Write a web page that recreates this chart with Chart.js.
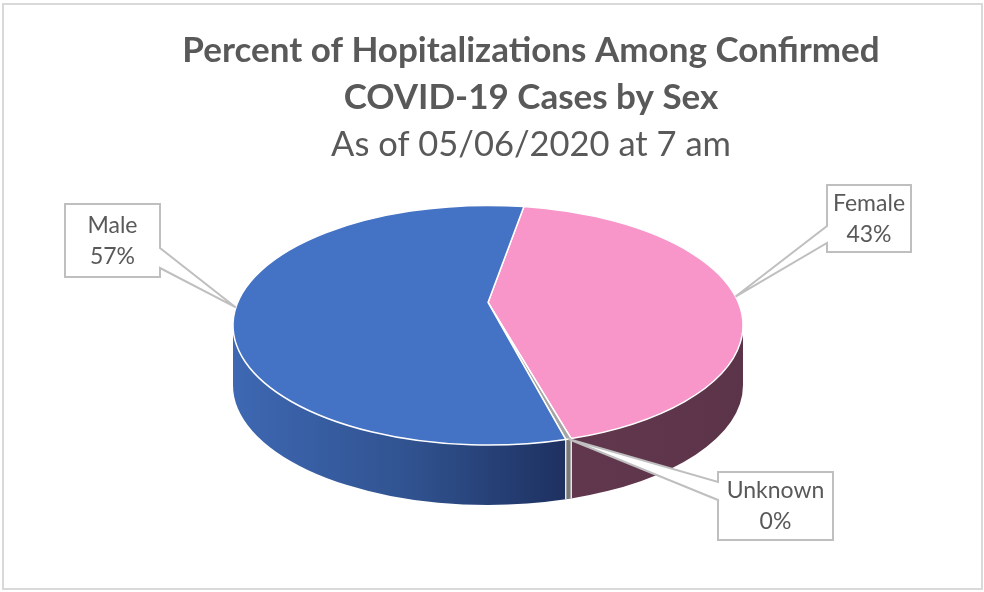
<!DOCTYPE html>
<html>
<head>
<meta charset="utf-8">
<script src="https://cdn.jsdelivr.net/npm/chart.js@4"></script>
<style>
html, body { margin: 0; padding: 0; background: #fff; }
canvas { display: block; }
</style>
</head>
<body>
<canvas id="pie3d" width="984" height="592"></canvas>
<script>
var labels = ['Female', 'Unknown', 'Male'];
var values = [42.9, 0.3, 56.8];

var topColors = ['#F896CA', '#A5A5A5', '#4472C4'];
var sideShades = [
    [[0, '#6B3D57'], [1, '#5C3449']],
    [[0, '#8C8C8C'], [1, '#6E6E6E']],
    [[0, '#3E68B3'], [0.35, '#30528F'], [0.65, '#1E3161'], [1, '#1B2C58']]
];
// label boxes, same order as labels; g1/g2 = where the pointer leaves the box
var callouts = [
    {x: 827, y: 185, w: 84, h: 67, side: 'left', g1: 41, g2: 58},
    {x: 718, y: 472, w: 115, h: 68, side: 'left', g1: 10, g2: 28},
    {x: 65, y: 204, w: 95, h: 73, side: 'right', g1: 44, g2: 64}
];
var widthShare = 0.7456; // pie width / plot area width
var tilt = 0.47;         // ry / rx of the top face
var depth = 0.235;       // wall height / rx
var persp = -0.19;       // centre pulled towards the back edge

// angle on the flat pie -> angle on the tilted ellipse
function project(a) {
    var s = Math.sin(a), c = Math.cos(a);
    var d = 1 + persp * s;
    var v = (s + persp) / d;
    var u = c * Math.sqrt(1 - persp * persp) / d;
    var t = Math.atan2(v, u);
    while (t < a - Math.PI) t += 2 * Math.PI;
    while (t > a + Math.PI) t -= 2 * Math.PI;
    return t;
}

var pie3d = {
    id: 'pie3d',
    beforeDatasetsDraw: function (chart) {
        var ctx = chart.ctx;
        var area = chart.chartArea;
        var rx = (area.right - area.left) * widthShare / 2;
        var g = {cx: (area.left + area.right) / 2, rx: rx, ry: rx * tilt, h: rx * depth};
        g.cy = area.top + g.ry;
        chart.$geo = g;
        var arcs = chart.getDatasetMeta(0).data;

        ctx.save();
        // walls
        arcs.forEach(function (arc, i) {
            var t1 = project(arc.startAngle), t2 = project(arc.endAngle);
            [0, 2 * Math.PI].forEach(function (base) {
                var s = Math.max(t1, base), e = Math.min(t2, base + Math.PI);
                if (e <= s) return;
                var grad = ctx.createLinearGradient(g.cx - g.rx, 0, g.cx + g.rx, 0);
                sideShades[i].forEach(function (st) {
                    grad.addColorStop(st[0], st[1]);
                });
                ctx.beginPath();
                ctx.ellipse(g.cx, g.cy, g.rx, g.ry, 0, s, e, false);
                ctx.ellipse(g.cx, g.cy + g.h, g.rx, g.ry, 0, e, s, true);
                ctx.closePath();
                ctx.fillStyle = grad;
                ctx.fill();
            });
        });
        // slice edges on the wall
        ctx.strokeStyle = '#ffffff';
        ctx.lineWidth = 1.2;
        arcs.forEach(function (arc) {
            var t = project(arc.startAngle);
            if (Math.sin(t) <= 0) return;
            var x = g.cx + g.rx * Math.cos(t), y = g.cy + g.ry * Math.sin(t);
            ctx.beginPath();
            ctx.moveTo(x, y);
            ctx.lineTo(x, y + g.h);
            ctx.stroke();
        });
        // top face
        ctx.lineWidth = 1.5;
        ctx.lineJoin = 'round';
        arcs.forEach(function (arc) {
            ctx.beginPath();
            ctx.moveTo(g.cx, g.cy + persp * g.ry);
            ctx.ellipse(g.cx, g.cy, g.rx, g.ry, 0, project(arc.startAngle), project(arc.endAngle), false);
            ctx.closePath();
            ctx.fillStyle = arc.options.backgroundColor;
            ctx.fill();
            ctx.stroke();
        });
        ctx.restore();
        return false;
    },
    afterDraw: function (chart) {
        var ctx = chart.ctx, g = chart.$geo;
        var arcs = chart.getDatasetMeta(0).data;
        var sum = values.reduce(function (a, b) { return a + b; }, 0);

        ctx.save();
        arcs.forEach(function (arc, i) {
            var t = project((arc.startAngle + arc.endAngle) / 2);
            var px = g.cx + g.rx * Math.cos(t), py = g.cy + g.ry * Math.sin(t);
            var c = callouts[i];
            ctx.beginPath();
            if (c.side === 'left') {
                ctx.moveTo(c.x, c.y);
                ctx.lineTo(c.x + c.w, c.y);
                ctx.lineTo(c.x + c.w, c.y + c.h);
                ctx.lineTo(c.x, c.y + c.h);
                ctx.lineTo(c.x, c.y + c.g2);
                ctx.lineTo(px, py);
                ctx.lineTo(c.x, c.y + c.g1);
            } else {
                ctx.moveTo(c.x, c.y);
                ctx.lineTo(c.x + c.w, c.y);
                ctx.lineTo(c.x + c.w, c.y + c.g1);
                ctx.lineTo(px, py);
                ctx.lineTo(c.x + c.w, c.y + c.g2);
                ctx.lineTo(c.x + c.w, c.y + c.h);
                ctx.lineTo(c.x, c.y + c.h);
            }
            ctx.closePath();
            ctx.fillStyle = '#ffffff';
            ctx.fill();
            ctx.strokeStyle = '#BFBFBF';
            ctx.lineWidth = 2;
            ctx.lineJoin = 'miter';
            ctx.stroke();

            ctx.fillStyle = '#595959';
            ctx.font = '23px Lato';
            ctx.textAlign = 'center';
            ctx.textBaseline = 'middle';
            var mx = c.x + c.w / 2, my = c.y + c.h / 2;
            ctx.fillText(labels[i], mx, my - 15);
            ctx.fillText(Math.round(values[i] / sum * 100) + '%', mx, my + 16);
        });

        // chart frame
        ctx.strokeStyle = '#D9D9D9';
        ctx.lineWidth = 2;
        ctx.strokeRect(3, 4, 979, 585);
        ctx.restore();
    }
};

new Chart(document.getElementById('pie3d'), {
    type: 'pie',
    data: {
        labels: labels,
        datasets: [{
            data: values,
            backgroundColor: topColors,
            borderColor: '#ffffff'
        }]
    },
    options: {
        responsive: false,
        animation: false,
        rotation: 9.8,
        layout: {
            padding: {left: 146, right: 68, top: 0, bottom: 20}
        },
        plugins: {
            // empty legend on the right only keeps the pie left of the title centre
            legend: {
                display: true,
                position: 'right',
                labels: {padding: 76, filter: function () { return false; }}
            },
            tooltip: {enabled: false},
            title: {
                display: true,
                text: ['Percent of Hopitalizations Among Confirmed', 'COVID-19 Cases by Sex'],
                color: '#595959',
                font: {family: 'Lato', size: 35, weight: 'bold', lineHeight: 1.343},
                padding: {top: 27, bottom: 2}
            },
            subtitle: {
                display: true,
                text: 'As of 05/06/2020 at 7 am',
                color: '#595959',
                font: {family: 'Lato', size: 34.5, weight: 'normal', lineHeight: 1.2},
                padding: {top: 1, bottom: 40}
            }
        }
    },
    plugins: [pie3d]
});
</script>
</body>
</html>
